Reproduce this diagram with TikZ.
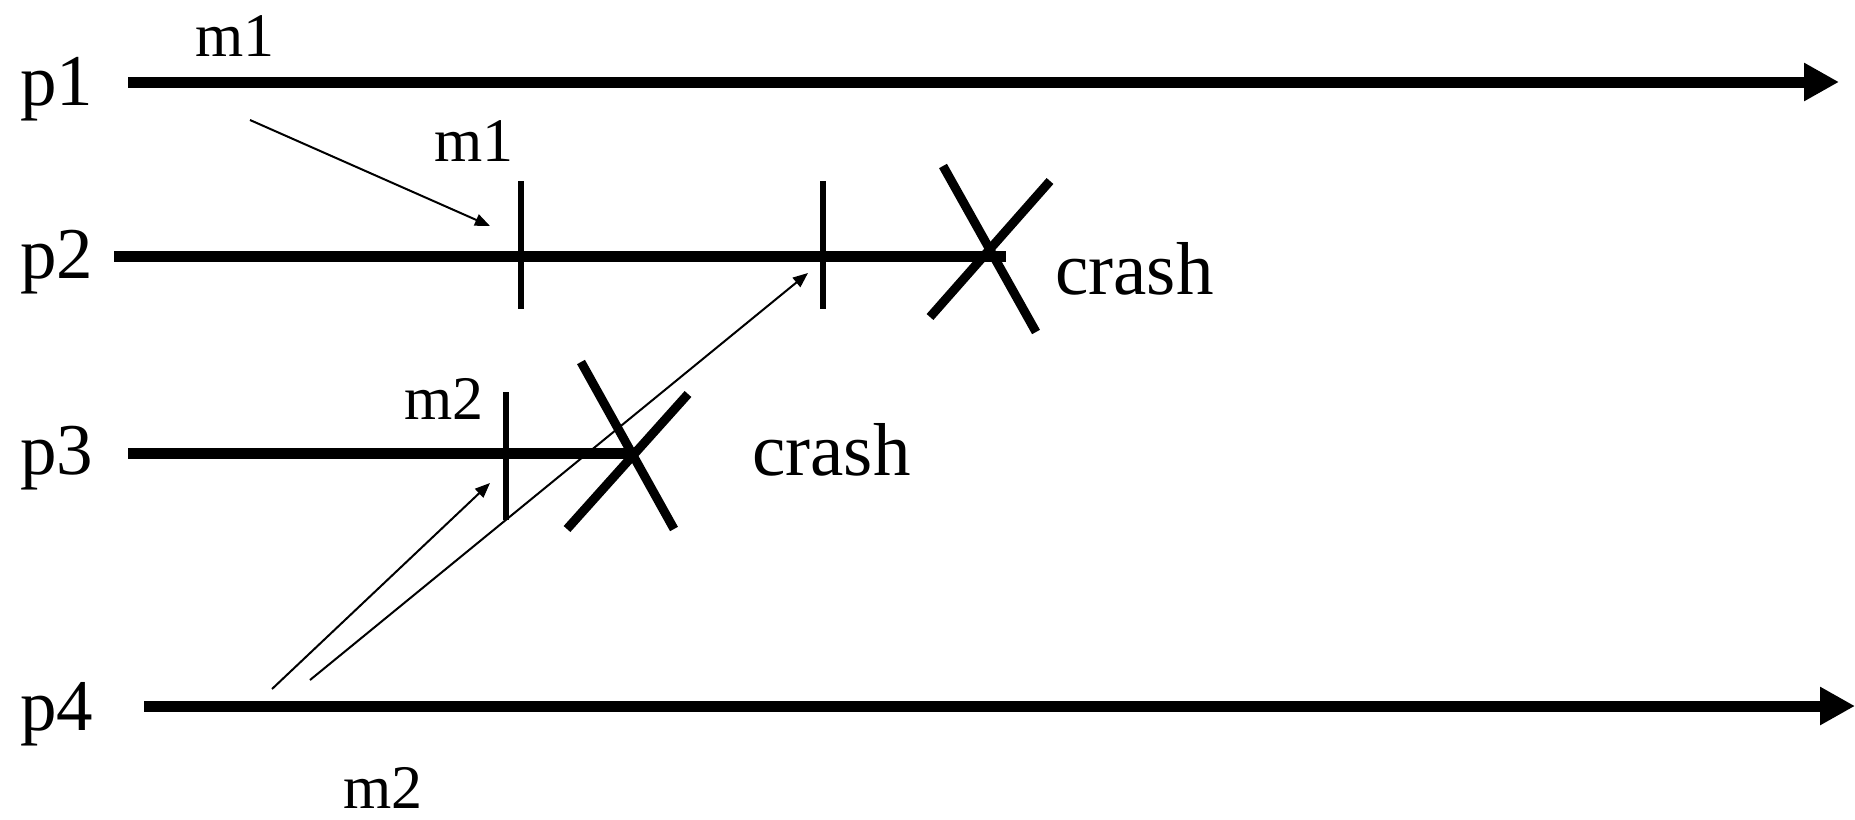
\documentclass[tikz,border=0pt]{standalone}
\usepackage{fontspec}
\setmainfont{Liberation Serif}
\usetikzlibrary{arrows.meta}
\tikzset{
  big/.style={font=\fontsize{36.5}{40}\selectfont, anchor=base west, inner sep=0pt},
  crashtxt/.style={font=\fontsize{37.5}{40}\selectfont, anchor=base west, inner sep=0pt},
  small/.style={font=\fontsize{31}{34}\selectfont, anchor=base west, inner sep=0pt},
  timeline/.style={line width=5.5pt},
  timearrow/.style={line width=5.5pt, -{Triangle[length=17.5pt,width=18pt]}},
  tick/.style={line width=3.3pt},
  crashx/.style={line width=4.5pt},
  msg/.style={line width=1pt, -{Triangle[length=7.5pt,width=6pt]}}
}
\begin{document}
\begin{tikzpicture}[x=0.5pt, y=-0.5pt]
\useasboundingbox (0,0) rectangle (1855,819);
% labels
\node[big] (lp1) at (20,105) {p1};
\node[big] (lp2) at (20,278) {p2};
\node[big] (lp3) at (20,474) {p3};
\node[big] (lp4) at (20,730) {p4};
\node[small] (lm1a) at (195,56) {m1};
\node[small] (lm1b) at (434,161) {m1};
\node[small] (lm2a) at (404,419) {m2};
\node[small] (lm2b) at (343,808) {m2};
\node[crashtxt] (lc2) at (1055,294) {crash};
\node[crashtxt] (lc3) at (752,475) {crash};
% timeline endpoints
\coordinate (p1s) at (128,82);  \coordinate (p1e) at (1839,82);
\coordinate (p2s) at (114,256); \coordinate (p2e) at (1006,256);
\coordinate (p3s) at (128,453); \coordinate (p3e) at (633,453);
\coordinate (p4s) at (144,706); \coordinate (p4e) at (1855,706);
\draw[timearrow] (p1s) -- (p1e);
\draw[timeline] (p2s) -- (p2e);
\draw[timeline] (p3s) -- (p3e);
\draw[timearrow] (p4s) -- (p4e);
% ticks
\coordinate (t1a) at (521,181); \coordinate (t1b) at (521,309);
\coordinate (t2a) at (823,181); \coordinate (t2b) at (823,309);
\coordinate (t3a) at (506,392); \coordinate (t3b) at (506,520);
\draw[tick] (t1a) -- (t1b);
\draw[tick] (t2a) -- (t2b);
\draw[tick] (t3a) -- (t3b);
% crash crosses
\coordinate (x2a) at (943,166); \coordinate (x2b) at (1036,332);
\coordinate (x2c) at (1050,181); \coordinate (x2d) at (930,317);
\coordinate (x3a) at (581,362); \coordinate (x3b) at (674,529);
\coordinate (x3c) at (688,394); \coordinate (x3d) at (567,529);
\draw[crashx] (x2a) -- (x2b);
\draw[crashx] (x2c) -- (x2d);
\draw[crashx] (x3a) -- (x3b);
\draw[crashx] (x3c) -- (x3d);
% messages
\coordinate (m1s) at (250,120); \coordinate (m1e) at (490,226);
\coordinate (m2s) at (272,689); \coordinate (m2e) at (490,483);
\coordinate (m3s) at (310,680); \coordinate (m3e) at (808,273);
\draw[msg] (m1s) -- (m1e);
\draw[msg] (m2s) -- (m2e);
\draw[msg] (m3s) -- (m3e);
\end{tikzpicture}
\end{document}
